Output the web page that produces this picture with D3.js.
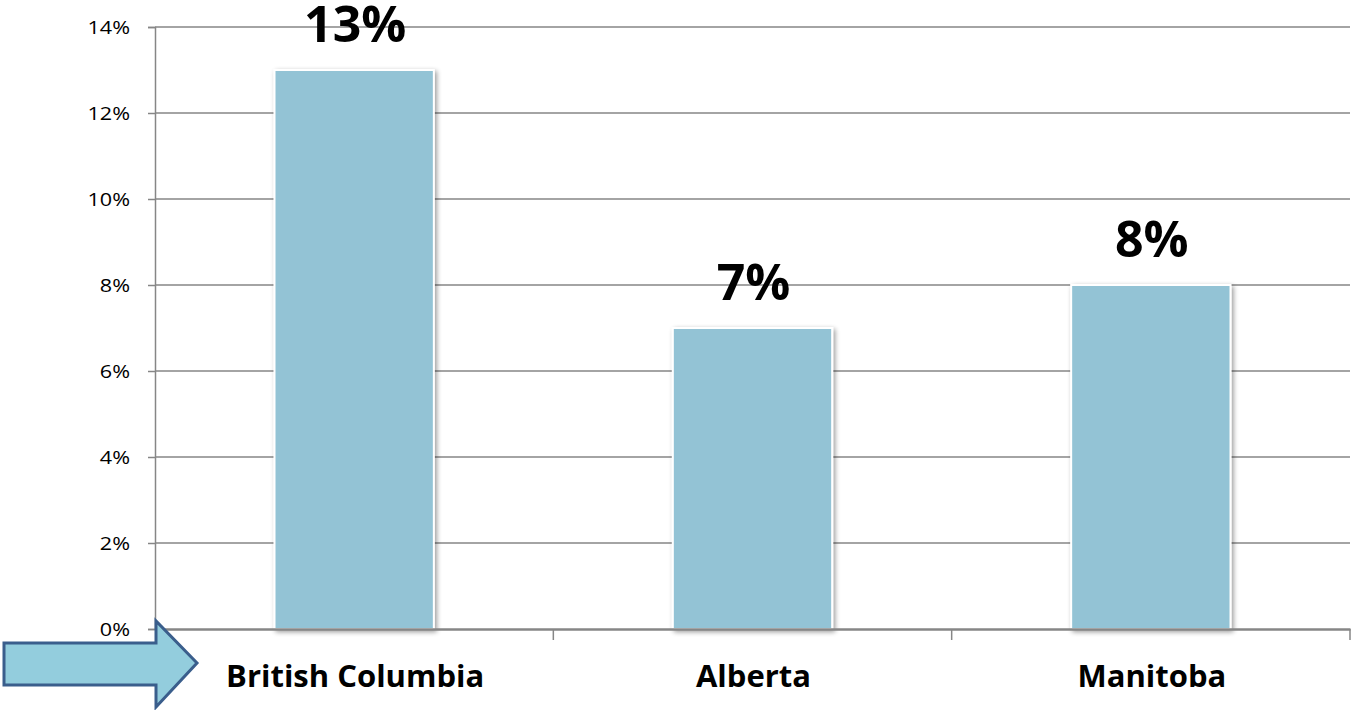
<!DOCTYPE html>
<html><head><meta charset="utf-8">
<script src="https://cdn.jsdelivr.net/npm/d3@7"></script>
<style>body{margin:0;background:#fff;}svg{display:block;}</style>
</head><body>
<svg id="c" width="1353" height="710"></svg>
<script>
const categories = ["British Columbia", "Alberta", "Manitoba"];
const values = [13, 7, 8];
const valueLabels = ["13%", "7%", "8%"];
const yTicks = [0, 2, 4, 6, 8, 10, 12, 14];
const yTickLabels = ["0%", "2%", "4%", "6%", "8%", "10%", "12%", "14%"];

const svg = d3.select("#c");
const L = 155, R = 1350, T = 27, B = 629;
const x = d3.scaleBand().domain(categories).range([L, R]).paddingInner(0.6).paddingOuter(0.3);
const xb = d3.scaleBand().domain(categories).range([L, R]);
const y = d3.scaleLinear().domain([0, 14]).range([B, T]);
const font = "'Open Sans', sans-serif";

const defs = svg.append("defs");
const f = defs.append("filter").attr("id", "sh").attr("x", "-10%").attr("y", "-5%").attr("width", "130%").attr("height", "115%");
f.append("feGaussianBlur").attr("in", "SourceAlpha").attr("stdDeviation", 2.5);
f.append("feOffset").attr("dx", 2).attr("dy", 2).attr("result", "b");
f.append("feComponentTransfer").append("feFuncA").attr("type", "linear").attr("slope", 0.4);
const m = f.append("feMerge"); m.append("feMergeNode"); m.append("feMergeNode").attr("in", "SourceGraphic");

// gridlines + y axis
const yAxis = d3.axisLeft(y).tickValues(yTicks).tickFormat((d, i) => yTickLabels[i]).tickSize(7).tickPadding(0);
const gy = svg.append("g").attr("transform", `translate(${L},0)`).call(yAxis);
gy.select(".domain").attr("stroke", "#868686").attr("stroke-width", 1.5);
gy.selectAll(".tick line").attr("stroke", "#868686").attr("stroke-width", 1.5);
gy.selectAll(".tick text").attr("font-family", font).attr("font-size", 18).attr("fill", "#000")
  .attr("x", null).attr("dy", null).attr("text-anchor", "end")
  .attr("transform", "translate(-25,6) scale(1.2,1)");
svg.append("g").selectAll("line").data(yTicks.filter(d => d > 0)).join("line")
  .attr("x1", L).attr("x2", R).attr("y1", d => y(d)).attr("y2", d => y(d))
  .attr("stroke", "#868686").attr("stroke-width", 1.5);

// bars
svg.append("g").selectAll("rect").data(values).join("rect")
  .attr("x", (d, i) => x(categories[i])).attr("width", x.bandwidth())
  .attr("y", d => y(d)).attr("height", d => B - y(d))
  .attr("fill", "#93c3d5").attr("stroke", "#ffffff").attr("stroke-width", 2)
  .attr("filter", "url(#sh)");

// x axis
const xAxis = d3.axisBottom(xb).tickValues([]).tickSize(0);
const gx = svg.append("g").attr("transform", `translate(0,${B})`).call(xAxis);
gx.select(".domain").attr("stroke", "#868686").attr("stroke-width", 2.5);
svg.append("g").selectAll("line").data(categories).join("line")
  .attr("x1", d => xb(d) + xb.bandwidth()).attr("x2", d => xb(d) + xb.bandwidth())
  .attr("y1", B).attr("y2", B + 11).attr("stroke", "#868686").attr("stroke-width", 1.5);

// category labels
svg.append("g").selectAll("text").data(categories).join("text")
  .attr("transform", d => `translate(${xb(d) + xb.bandwidth() / 2 + 1},687)`)
  .attr("text-anchor", "middle").attr("font-family", font).attr("font-weight", "bold")
  .attr("font-size", 31).attr("fill", "#000").text(d => d);

// value labels
svg.append("g").selectAll("text").data(values).join("text")
  .attr("transform", (d, i) => `translate(${xb(categories[i]) + xb.bandwidth() / 2 + 1},${y(d) - 28})`)
  .attr("text-anchor", "middle").attr("font-family", font).attr("font-weight", "bold")
  .attr("font-size", 50).attr("fill", "#000").text((d, i) => valueLabels[i]);

// arrow
const ah = d3.path();
ah.moveTo(4, 643); ah.lineTo(156, 643); ah.lineTo(156, 621); ah.lineTo(197, 663);
ah.lineTo(156, 707); ah.lineTo(156, 685); ah.lineTo(4, 685); ah.closePath();
svg.append("path").attr("d", ah.toString()).attr("fill", "#93cddd")
  .attr("stroke", "#3a5e8c").attr("stroke-width", 3).attr("stroke-linejoin", "miter");
</script>
</body></html>
